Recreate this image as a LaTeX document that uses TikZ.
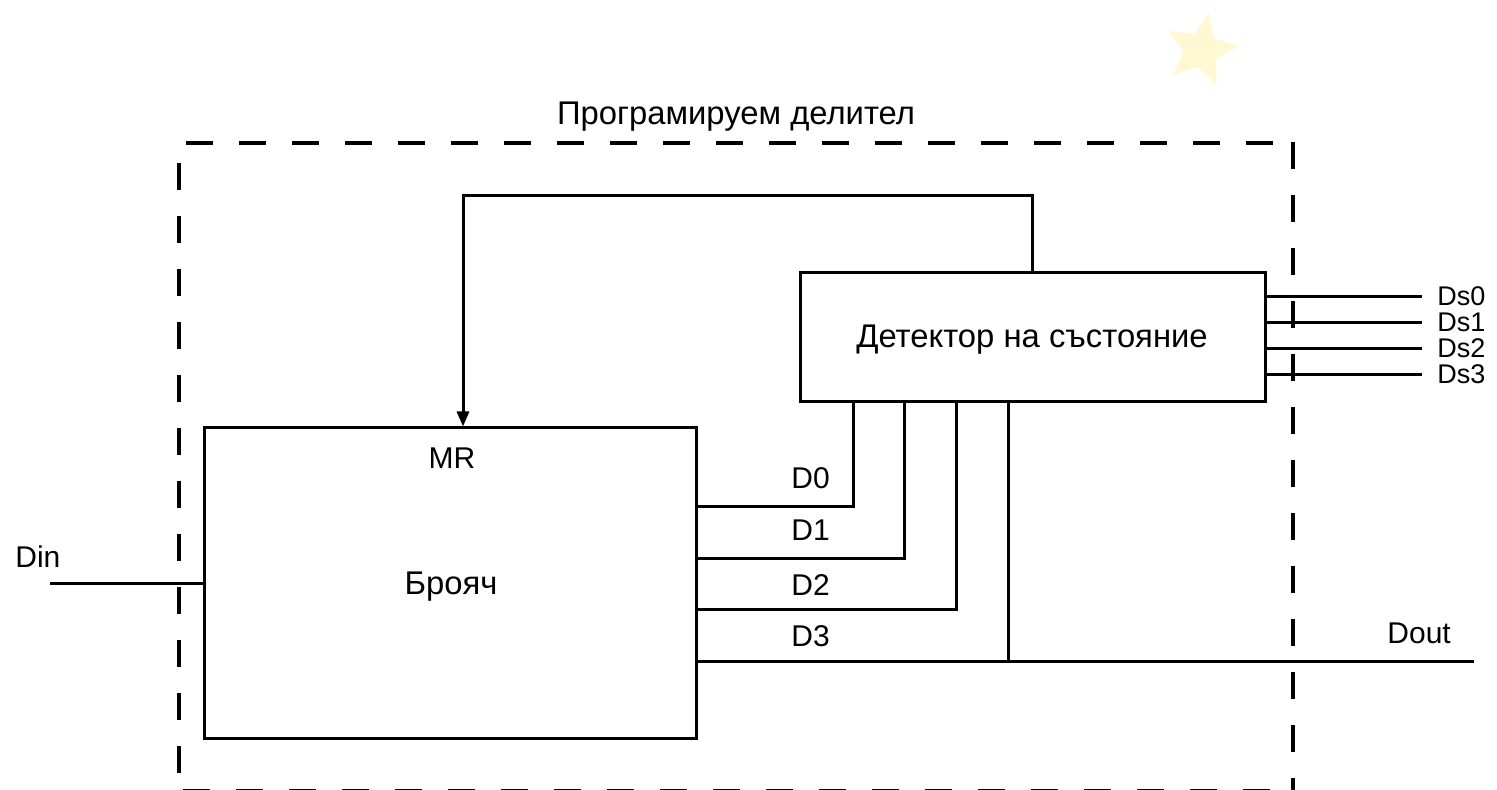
\documentclass[tikz,border=0pt]{standalone}
\usepackage{fontspec}
\setmainfont{Liberation Sans}
\usetikzlibrary{arrows.meta,shapes.geometric}
\definecolor{starfill}{HTML}{FFF8D2}
\tikzset{
  wire/.style={line width=1.5pt},
  frame/.style={line width=2pt, dash pattern=on 13.5pt off 13pt},
  blockbox/.style={draw, line width=1.5pt, rectangle, inner sep=0pt},
  lbl/.style={font=\fontsize{15}{18}\selectfont, inner sep=0pt, anchor=base west},
  dslbl/.style={font=\fontsize{13.5}{16}\selectfont, inner sep=0pt, anchor=base west},
  clbl/.style={font=\fontsize{15}{18}\selectfont, inner sep=0pt, anchor=base},
  biglbl/.style={font=\fontsize{16.4}{19}\selectfont, inner sep=0pt, anchor=base},
  arr/.style={wire, -{Triangle[length=7.5pt,width=6pt]}}
}
\begin{document}
\begin{tikzpicture}[x=0.5pt,y=-0.5pt]
\useasboundingbox (0,0) rectangle (1497,790);
% star decoration
\node[star, star points=5, star point ratio=2.2, minimum size=38pt, inner sep=0pt,
      fill=starfill, draw=none, rotate=-12] (deco) at (1201,50) {};
% dashed frame
\draw[frame] (186,143) -- (1288,143);
\draw[frame] (179,163) -- (179,800);
\draw[frame] (1293,142) -- (1293,800);
\draw[frame] (183,791) -- (1293,791);
\node[biglbl] (title) at (736,125) {Програмируем делител};
% blocks
\node[blockbox, minimum width=246pt, minimum height=155pt] (cnt) at (450,583) {};
\node[biglbl] (cntlbl) at (451,594) {Брояч};
\node[clbl] (mr) at (452,468) {MR};
\node[blockbox, minimum width=232.5pt, minimum height=64.5pt] (det) at (1032.5,337.5) {};
\node[biglbl] (detlbl) at (1032,348) {Детектор на състояние};
% input
\coordinate (din) at (50,583);
\draw[wire] (din) -- (cnt.west);
\node[lbl] (dinlbl) at (15,567) {Din};
% feedback
\draw[arr] (det.north) -- (det.north |- 0,196) -| (cnt.north -| 463,0);
% data lines
\draw[wire] (cnt.east |- 0,506) -| (det.south -| 853,0);
\draw[wire] (cnt.east |- 0,558) -| (det.south -| 904,0);
\draw[wire] (cnt.east |- 0,609) -| (det.south -| 956,0);
\coordinate (dout) at (1474,661);
\draw[wire] (cnt.east |- 0,661) -- (dout);
\draw[wire] (det.south -| 1008,0) -- (1008,661);
\node[lbl] (d0) at (791,488) {D0};
\node[lbl] (d1) at (791,540) {D1};
\node[lbl] (d2) at (791,595) {D2};
\node[lbl] (d3) at (791,646) {D3};
\node[lbl] (doutlbl) at (1387,643) {Dout};
% Ds outputs
\coordinate (ds0e) at (1422,297);
\coordinate (ds1e) at (1422,323);
\coordinate (ds2e) at (1422,349);
\coordinate (ds3e) at (1422,375);
\draw[wire] (det.east |- ds0e) -- (ds0e);
\draw[wire] (det.east |- ds1e) -- (ds1e);
\draw[wire] (det.east |- ds2e) -- (ds2e);
\draw[wire] (det.east |- ds3e) -- (ds3e);
\node[dslbl] (ds0) at (1437,306) {Ds0};
\node[dslbl] (ds1) at (1437,332) {Ds1};
\node[dslbl] (ds2) at (1437,358) {Ds2};
\node[dslbl] (ds3) at (1437,384) {Ds3};
\end{tikzpicture}
\end{document}
